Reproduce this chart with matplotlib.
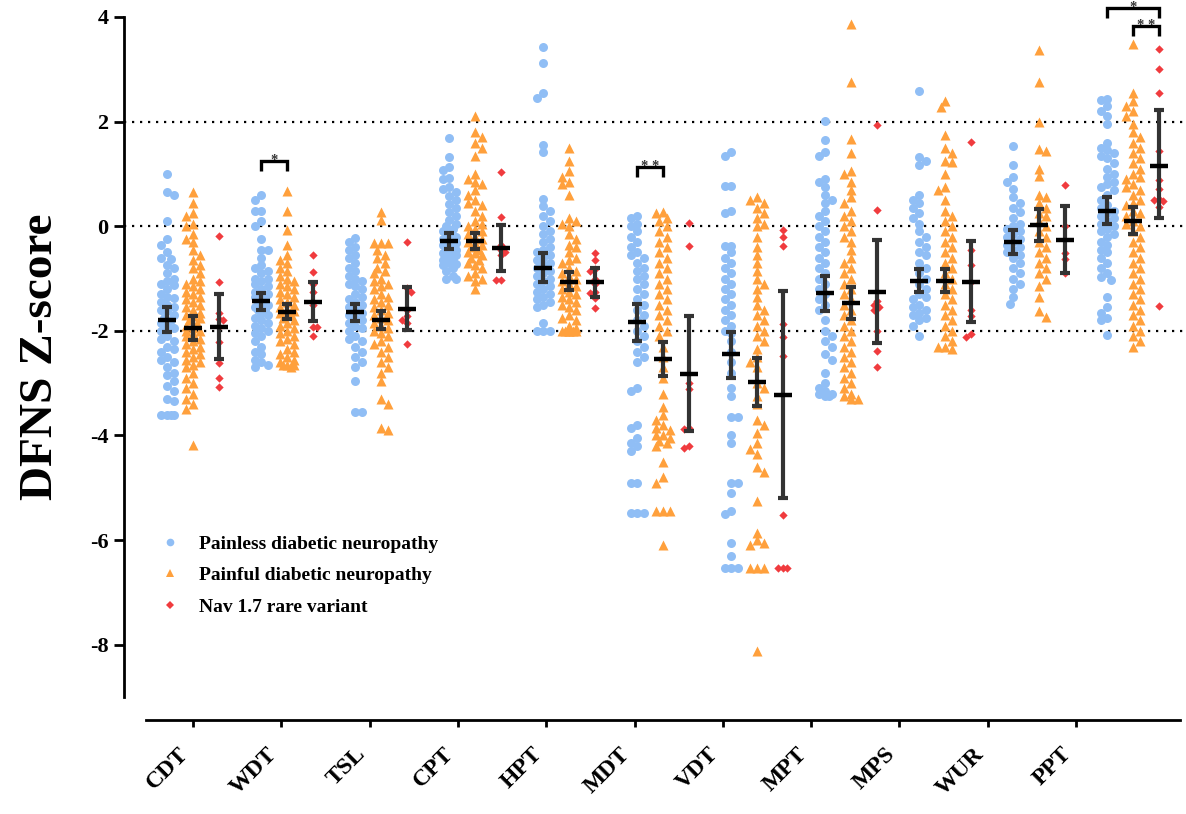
import numpy as np
import matplotlib
matplotlib.use("Agg")
import matplotlib.pyplot as plt
from matplotlib.lines import Line2D

plt.rcParams['font.family'] = ['Liberation Serif', 'DejaVu Serif']
plt.rcParams['font.weight'] = 'bold'
plt.rcParams['axes.unicode_minus'] = False

# ---------------- data ----------------
tests = ['CDT', 'WDT', 'TSL', 'CPT', 'HPT', 'MDT', 'VDT', 'MPT', 'MPS', 'WUR', 'PPT']
groups = ['Painless diabetic neuropathy', 'Painful diabetic neuropathy', 'Nav 1.7 rare variant']

cdt_painless = [1.0, 0.65, 0.6, 0.1, -0.25, -0.35, -0.5, -0.6, -0.62, -0.75, -0.8, -0.9, -1.0, -1.05,
                -1.1, -1.12, -1.2, -1.3, -1.35, -1.38, -1.45, -1.5, -1.55, -1.6, -1.62, -1.7, -1.75,
                -1.8, -1.85, -1.9, -1.95, -2.0, -2.1, -2.15, -2.2, -2.3, -2.35, -2.4, -2.5, -2.55,
                -2.6, -2.7, -2.8, -2.85, -2.95, -3.05, -3.15, -3.3, -3.35, -3.6, -3.6, -3.6, -3.6]
cdt_painful = [0.65, 0.45, 0.25, 0.2, 0.05, 0.0, -0.15, -0.25, -0.3, -0.45, -0.55, -0.65, -0.75, -0.8,
               -0.9, -1.0, -1.05, -1.1, -1.15, -1.2, -1.25, -1.3, -1.35, -1.4, -1.45, -1.5, -1.55,
               -1.6, -1.65, -1.7, -1.72, -1.75, -1.8, -1.85, -1.9, -1.95, -2.0, -2.0, -2.05, -2.1,
               -2.15, -2.2, -2.25, -2.3, -2.35, -2.4, -2.45, -2.5, -2.55, -2.6, -2.65, -2.7, -2.8,
               -2.9, -3.0, -3.1, -3.2, -3.3, -3.4, -3.5, -4.18]
cdt_nav = [-0.18, -1.06, -1.65, -1.78, -1.8, -1.92, -2.22, -2.62, -2.9, -3.08]

wdt_painless = [0.6, 0.5, 0.3, 0.3, 0.1, 0.0, -0.25, -0.45, -0.45, -0.6, -0.75, -0.8, -0.85, -0.9,
                -1.0, -1.0, -1.05, -1.1, -1.15, -1.2, -1.25, -1.3, -1.3, -1.35, -1.4, -1.45, -1.5,
                -1.5, -1.55, -1.6, -1.6, -1.65, -1.7, -1.75, -1.8, -1.85, -1.9, -1.95, -2.0, -2.05,
                -2.1, -2.2, -2.3, -2.4, -2.45, -2.55, -2.6, -2.65, -2.7]
wdt_painful = [0.67, 0.3, -0.07, -0.35, -0.55, -0.65, -0.7, -0.8, -0.85, -0.95, -1.0, -1.05, -1.1,
               -1.15, -1.2, -1.25, -1.3, -1.35, -1.4, -1.45, -1.5, -1.55, -1.6, -1.62, -1.65, -1.7,
               -1.75, -1.8, -1.85, -1.9, -1.95, -2.0, -2.05, -2.1, -2.15, -2.2, -2.25, -2.35, -2.4,
               -2.45, -2.5, -2.55, -2.6, -2.65, -2.65, -2.65, -2.7]
wdt_nav = [-0.55, -0.87, -1.1, -1.25, -1.5, -1.92, -1.92, -2.09]

tsl_painless = [-0.22, -0.3, -0.4, -0.45, -0.55, -0.6, -0.7, -0.8, -0.85, -0.95, -1.0, -1.05, -1.1,
                -1.15, -1.2, -1.3, -1.35, -1.4, -1.45, -1.5, -1.55, -1.6, -1.65, -1.7, -1.75, -1.8,
                -1.85, -1.9, -1.95, -2.0, -2.1, -2.15, -2.2, -2.3, -2.4, -2.5, -2.6, -2.7, -2.95,
                -3.56, -3.56]
tsl_painful = [0.27, 0.12, -0.33, -0.33, -0.33, -0.45, -0.55, -0.6, -0.7, -0.8, -0.85, -0.9, -1.0,
               -1.05, -1.1, -1.15, -1.2, -1.3, -1.35, -1.4, -1.45, -1.5, -1.55, -1.6, -1.65, -1.7,
               -1.75, -1.8, -1.85, -1.9, -1.95, -2.0, -2.05, -2.1, -2.2, -2.25, -2.3, -2.4, -2.5,
               -2.6, -2.7, -2.8, -2.95, -3.3, -3.4, -3.85, -3.9]
tsl_nav = [-0.31, -1.19, -1.25, -1.6, -1.72, -1.79, -1.85, -2.26]

cpt_painless = [1.69, 1.32, 1.13, 1.07, 0.92, 0.9, 0.75, 0.72, 0.65, 0.58, 0.5, 0.42, 0.35, 0.28,
                0.2, 0.12, 0.05, 0.0, -0.05, -0.1, -0.15, -0.2, -0.25, -0.3, -0.32, -0.35, -0.4,
                -0.42, -0.45, -0.5, -0.52, -0.55, -0.6, -0.62, -0.65, -0.7, -0.72, -0.75, -0.8,
                -0.85, -0.95, -1.0, -1.0]
cpt_painful = [2.1, 1.8, 1.7, 1.6, 1.5, 1.35, 1.0, 0.9, 0.85, 0.8, 0.7, 0.6, 0.5, 0.45, 0.4, 0.3,
               0.2, 0.1, 0.05, 0.0, -0.05, -0.1, -0.15, -0.2, -0.25, -0.3, -0.32, -0.35, -0.4,
               -0.45, -0.5, -0.52, -0.55, -0.6, -0.65, -0.7, -0.75, -0.8, -0.9, -0.95, -1.0,
               -1.05, -1.2]
cpt_nav = [1.04, 0.18, -0.35, -0.45, -0.5, -0.55, -1.03, -1.03]

hpt_painless = [3.42, 3.13, 2.54, 2.45, 1.55, 1.42, 0.52, 0.38, 0.3, 0.2, 0.1, 0.0, -0.1, -0.15,
                -0.25, -0.3, -0.4, -0.45, -0.5, -0.55, -0.6, -0.65, -0.7, -0.75, -0.8, -0.85, -0.9,
                -0.95, -1.0, -1.05, -1.1, -1.15, -1.2, -1.25, -1.3, -1.35, -1.4, -1.45, -1.5,
                -1.55, -1.85, -2.0, -2.0, -2.0]
hpt_painful = [1.5, 1.25, 1.05, 0.95, 0.85, 0.8, 0.6, 0.15, 0.1, 0.05, 0.0, -0.15, -0.25, -0.35,
               -0.4, -0.5, -0.6, -0.65, -0.7, -0.8, -0.85, -0.9, -0.95, -1.0, -1.05, -1.1, -1.15,
               -1.2, -1.25, -1.3, -1.35, -1.4, -1.45, -1.5, -1.55, -1.6, -1.7, -1.75, -1.8, -1.9,
               -1.95, -2.0, -2.0, -2.0, -2.0, -2.0, -2.0]
hpt_nav = [-0.52, -0.65, -0.81, -0.85, -1.0, -1.1, -1.26, -1.28, -1.38, -1.57]

mdt_painless = [0.2, 0.15, 0.05, 0.0, -0.1, -0.2, -0.3, -0.4, -0.5, -0.55, -0.6, -0.7, -0.8, -0.85,
                -0.95, -1.0, -1.1, -1.2, -1.3, -1.4, -1.5, -1.6, -1.7, -1.8, -1.9, -2.0, -2.1, -2.2,
                -2.3, -2.4, -2.5, -2.6, -3.1, -3.15, -3.8, -3.85, -4.05, -4.15, -4.2, -4.3, -4.9,
                -4.9, -5.48, -5.48, -5.48]
mdt_painful = [0.28, 0.25, 0.15, 0.1, 0.0, -0.1, -0.2, -0.3, -0.4, -0.5, -0.6, -0.7, -0.8, -0.9,
               -1.0, -1.1, -1.2, -1.3, -1.4, -1.5, -1.6, -1.7, -1.8, -1.9, -2.0, -2.1, -2.3, -2.5,
               -2.7, -2.9, -3.2, -3.45, -3.6, -3.7, -3.8, -3.85, -3.9, -4.0, -4.0, -4.05, -4.1,
               -4.15, -4.2, -4.5, -4.8, -4.9, -5.45, -5.45, -5.45, -6.09]
mdt_nav = [0.06, -0.38, -3.0, -3.12, -3.86, -3.88, -4.2, -4.24]

vdt_painless = [1.42, 1.34, 0.77, 0.77, 0.3, 0.25, -0.37, -0.37, -0.5, -0.6, -0.7, -0.8, -0.9, -1.0,
                -1.1, -1.2, -1.3, -1.4, -1.5, -1.6, -1.7, -1.8, -1.9, -2.0, -2.05, -2.2, -2.4, -2.6,
                -2.8, -3.1, -3.25, -3.64, -3.64, -4.0, -4.15, -4.9, -4.9, -5.1, -5.45, -5.5, -6.05,
                -6.3, -6.53, -6.53, -6.53]
vdt_painful = [0.56, 0.5, 0.45, 0.35, 0.25, 0.15, 0.05, 0.0, -0.2, -0.4, -0.55, -0.7, -0.85, -1.0,
               -1.1, -1.2, -1.35, -1.5, -1.6, -1.7, -1.8, -1.9, -2.0, -2.1, -2.2, -2.35, -2.5, -2.6,
               -2.7, -3.0, -3.1, -3.25, -3.4, -3.7, -3.8, -3.95, -4.15, -4.25, -4.35, -4.6, -4.7,
               -5.26, -5.86, -6.0, -6.05, -6.1, -6.53, -6.53, -6.53, -8.12]
vdt_nav = [-0.08, -0.2, -0.37, -1.86, -2.11, -2.48, -5.53, -6.53, -6.53, -6.53]

mpt_painless = [2.01, 1.65, 1.42, 1.34, 0.9, 0.85, 0.75, 0.6, 0.5, 0.45, 0.3, 0.2, 0.1, 0.0, -0.1,
                -0.2, -0.3, -0.4, -0.5, -0.6, -0.7, -0.8, -0.9, -1.0, -1.1, -1.2, -1.3, -1.4, -1.5,
                -1.6, -1.8, -2.0, -2.1, -2.2, -2.3, -2.45, -2.55, -2.8, -3.0, -3.1, -3.15, -3.2,
                -3.2, -3.25, -3.25]
mpt_painful = [3.87, 2.75, 1.67, 1.4, 1.05, 1.0, 0.85, 0.7, 0.55, 0.45, 0.3, 0.2, 0.1, 0.0, -0.1,
               -0.2, -0.3, -0.45, -0.6, -0.7, -0.8, -0.9, -1.0, -1.1, -1.2, -1.3, -1.4, -1.5, -1.6,
               -1.7, -1.8, -1.9, -2.0, -2.1, -2.2, -2.3, -2.4, -2.5, -2.6, -2.7, -2.8, -2.9, -3.0,
               -3.1, -3.2, -3.25, -3.3, -3.3]
mpt_nav = [1.94, 0.31, -1.42, -1.5, -1.55, -1.6, -2.0, -2.38, -2.7]

mps_painless = [2.59, 1.32, 1.25, 1.18, 0.6, 0.5, 0.45, 0.35, 0.25, 0.15, 0.05, -0.1, -0.2, -0.3,
                -0.4, -0.5, -0.55, -0.7, -0.8, -0.9, -1.0, -1.1, -1.2, -1.3, -1.35, -1.4, -1.5,
                -1.55, -1.6, -1.65, -1.7, -1.75, -1.8, -1.9, -2.1]
mps_painful = [2.4, 2.28, 1.74, 1.5, 1.4, 1.25, 1.22, 1.0, 0.75, 0.7, 0.5, 0.3, 0.2, 0.1, 0.0, -0.1,
               -0.2, -0.3, -0.4, -0.5, -0.6, -0.7, -0.8, -0.9, -1.0, -1.1, -1.2, -1.3, -1.4, -1.5,
               -1.6, -1.7, -1.8, -1.9, -2.0, -2.1, -2.2, -2.3, -2.3, -2.35]
mps_nav = [1.61, -0.45, -0.75, -1.06, -1.6, -1.72, -2.06, -2.11]

wur_painless = [1.53, 1.18, 0.94, 0.85, 0.72, 0.55, 0.45, 0.35, 0.28, 0.15, 0.05, 0.0, -0.05, -0.1,
                -0.15, -0.2, -0.25, -0.3, -0.35, -0.4, -0.45, -0.5, -0.55, -0.6, -0.7, -0.8, -0.9,
                -1.0, -1.1, -1.2, -1.35, -1.48]
wur_painful = [3.36, 2.75, 2.0, 1.48, 1.44, 1.1, 0.96, 0.6, 0.55, 0.45, 0.35, 0.25, 0.2, 0.1, 0.0,
               -0.1, -0.2, -0.3, -0.4, -0.5, -0.6, -0.7, -0.8, -0.9, -1.0, -1.15, -1.35, -1.62, -1.73]
wur_nav = [0.78, 0.0, -0.52, -0.63, -0.9]

ppt_painless = [2.44, 2.42, 2.3, 2.2, 2.1, 1.96, 1.6, 1.5, 1.45, 1.4, 1.35, 1.3, 1.2, 1.1, 1.0, 0.95,
                0.85, 0.8, 0.75, 0.7, 0.6, 0.5, 0.4, 0.35, 0.3, 0.25, 0.2, 0.15, 0.1, 0.05, 0.0,
                -0.05, -0.1, -0.15, -0.2, -0.3, -0.35, -0.45, -0.5, -0.6, -0.7, -0.8, -0.9, -0.97,
                -1.03, -1.35, -1.55, -1.65, -1.75, -1.8, -2.08]
ppt_painful = [3.49, 2.54, 2.4, 2.3, 2.2, 2.1, 1.95, 1.8, 1.7, 1.6, 1.5, 1.4, 1.3, 1.2, 1.1, 1.0,
               0.95, 0.9, 0.8, 0.75, 0.7, 0.6, 0.5, 0.45, 0.4, 0.3, 0.25, 0.2, 0.1, 0.05, 0.0,
               -0.1, -0.2, -0.3, -0.4, -0.5, -0.6, -0.7, -0.8, -0.9, -1.0, -1.1, -1.2, -1.3, -1.4,
               -1.5, -1.6, -1.7, -1.8, -1.9, -2.0, -2.1, -2.2, -2.3]
ppt_nav = [3.39, 3.0, 2.54, 1.43, 0.89, 0.72, 0.5, 0.48, 0.52, 0.37, -1.53]

painless_mean = [-1.79, -1.43, -1.64, -0.28, -0.79, -1.84, -2.45, -1.27, -1.04, -0.30, 0.29]
painless_lo = [-2.02, -1.60, -1.81, -0.43, -1.06, -2.19, -2.91, -1.62, -1.26, -0.53, 0.04]
painless_hi = [-1.55, -1.27, -1.48, -0.13, -0.51, -1.48, -2.02, -0.95, -0.81, -0.08, 0.56]
painful_mean = [-1.94, -1.64, -1.79, -0.28, -1.06, -2.53, -2.97, -1.46, -1.04, 0.03, 0.10]
painful_lo = [-2.17, -1.77, -1.96, -0.43, -1.22, -2.87, -3.43, -1.78, -1.26, -0.29, -0.15]
painful_hi = [-1.71, -1.49, -1.62, -0.12, -0.88, -2.21, -2.51, -1.16, -0.81, 0.32, 0.36]
nav_mean = [-1.92, -1.45, -1.58, -0.41, -1.06, -2.82, -3.22, -1.25, -1.06, -0.26, 1.16]
nav_lo = [-2.54, -1.81, -1.98, -0.85, -1.35, -3.92, -5.20, -2.23, -1.83, -0.90, 0.15]
nav_hi = [-1.30, -1.07, -1.17, 0.03, -0.80, -1.71, -1.23, -0.27, -0.28, 0.38, 2.23]

# significance: (test index, group a, group b, bracket level, label)
sig_tests = [1, 5, 10, 10]
sig_a = [0, 0, 0, 1]
sig_b = [1, 1, 2, 2]
sig_level = [1.24, 1.13, 4.17, 3.82]
sig_label = ['*', '**', '*', '**']

painless = [cdt_painless, wdt_painless, tsl_painless, cpt_painless, hpt_painless, mdt_painless,
            vdt_painless, mpt_painless, mps_painless, wur_painless, ppt_painless]
painful = [cdt_painful, wdt_painful, tsl_painful, cpt_painful, hpt_painful, mdt_painful,
           vdt_painful, mpt_painful, mps_painful, wur_painful, ppt_painful]
nav = [cdt_nav, wdt_nav, tsl_nav, cpt_nav, hpt_nav, mdt_nav, vdt_nav, mpt_nav, mps_nav, wur_nav, ppt_nav]

# ---------------- style ----------------
W, H = 1186, 814
fig = plt.figure(figsize=(W / 100, H / 100), dpi=100)
ax = fig.add_axes([124 / W, 1 - 697 / H, (W - 124) / W, 680 / H])
ax.set_facecolor('none')

px_x = 94.0          # pixels per category unit
ymin, ymax = -9, 4
px_y = 680 / (ymax - ymin)
ax.set_xlim(-(193 - 124) / px_x, (W - 193) / px_x)
ax.set_ylim(ymin, ymax)

colors = ['#90BEF5', '#FFA03C', '#F03B3E']
markers = ['o', '^', 'D']
sizes = [42, 52, 18]
diam_px = [8.5, 9.0, 6.0]
maxw_px = [9.0, 10.0, 6.0]
offs = [-0.272, 0.0, 0.272]


def swarm(vals, diam, maxw):
    vals = np.asarray(vals, float)
    order = np.argsort(-vals)
    placed = []
    xo = np.zeros(len(vals))
    step = diam * 0.4
    cands = [0.0]
    k = 1
    while k * step <= maxw + 1e-9:
        cands += [k * step, -k * step]
        k += 1
    for n, i in enumerate(order):
        y = vals[i] * px_y
        best, bestd = 0.0, -1
        chosen = None
        cc = cands if n % 2 == 0 else [cands[0]] + [-c for c in cands[1:]]
        for c in cc:
            md = min([np.hypot(c - px, y - py) for px, py in placed] + [1e9])
            if md >= diam * 0.8:
                chosen = c
                break
            if md > bestd:
                bestd, best = md, c
        if chosen is None:
            chosen = best
        xo[i] = chosen
        placed.append((chosen, y))
    return xo / px_x


for g, data in enumerate([painless, painful, nav]):
    for i, vals in enumerate(data):
        xo = swarm(vals, diam_px[g], maxw_px[g])
        ax.scatter(i + offs[g] + xo, vals, s=sizes[g], marker=markers[g], color=colors[g],
                   linewidths=0, zorder=2 + g * 0.1, clip_on=False)

# mean and error bars
for g, (m, lo, hi) in enumerate([(painless_mean, painless_lo, painless_hi),
                                 (painful_mean, painful_lo, painful_hi),
                                 (nav_mean, nav_lo, nav_hi)]):
    x = np.arange(len(tests)) + offs[g]
    m = np.array(m); lo = np.array(lo); hi = np.array(hi)
    ax.errorbar(x, m, yerr=[m - lo, hi - m], fmt='none', ecolor='#333333', elinewidth=3,
                capsize=3.6, capthick=3, zorder=5)
    ax.plot(x, m, linestyle='none', marker='_', markersize=13, markeredgewidth=3.2,
            color='black', zorder=6)

# reference lines
for yv in [2, 0, -2]:
    ax.axhline(yv, color='black', lw=1.6, ls=(0, (1, 2.6)), zorder=1)

# significance brackets
for t, a, b, lev, lab in zip(sig_tests, sig_a, sig_b, sig_level, sig_label):
    x1, x2 = t + offs[a], t + offs[b]
    drop = 0.18
    ax.plot([x1, x1, x2, x2], [lev - drop, lev, lev, lev - drop], color='black', lw=2.4,
            solid_capstyle='butt', solid_joinstyle='miter', clip_on=False, zorder=6)
    ax.text((x1 + x2) / 2, lev - 0.05, ' '.join(lab), ha='center', va='baseline', fontsize=10.5,
            color='#333333', clip_on=False)

# y axis
for s in ['top', 'right', 'bottom']:
    ax.spines[s].set_visible(False)
ax.spines['left'].set_linewidth(2)
ax.set_yticks([4, 2, 0, -2, -4, -6, -8])
ax.tick_params(axis='y', length=7, width=2, labelsize=16, pad=4)
for lbl in ax.get_yticklabels():
    lbl.set_fontweight('bold')
ax.set_xticks([])
ax.set_ylabel('DFNS Z-score', fontsize=34, fontweight='bold', labelpad=20)

# separate category axis (offset like the original)
bx = fig.add_axes([146 / W, 1 - 720 / H, (1180 - 146) / W, 0.0001])
bx.set_facecolor('none')
tick_step = 88.3
bx.set_xlim((146 - 193) / tick_step, (1180 - 193) / tick_step)
bx.set_ylim(0, 1)
for s in ['top', 'right', 'left']:
    bx.spines[s].set_visible(False)
bx.spines['bottom'].set_linewidth(2)
bx.set_yticks([])
bx.set_xticks(np.arange(len(tests)))
bx.set_xticklabels(tests, rotation=45, ha='right', fontsize=17, fontweight='bold')
bx.tick_params(axis='x', length=5, width=2, pad=12)

# legend
handles = [Line2D([], [], linestyle='none', marker=markers[g], color=colors[g],
                  markersize=[5.5, 6, 4.5][g], markeredgewidth=0) for g in range(3)]
fig.legend(handles, groups, loc='upper left', bbox_to_anchor=(160 / W, 1 - 535 / H),
           frameon=False, prop={'size': 14, 'weight': 'bold'}, handlelength=1.0,
           handletextpad=1.0, labelspacing=0.72, borderpad=0, borderaxespad=0)

fig.savefig('out.png', dpi=100)
